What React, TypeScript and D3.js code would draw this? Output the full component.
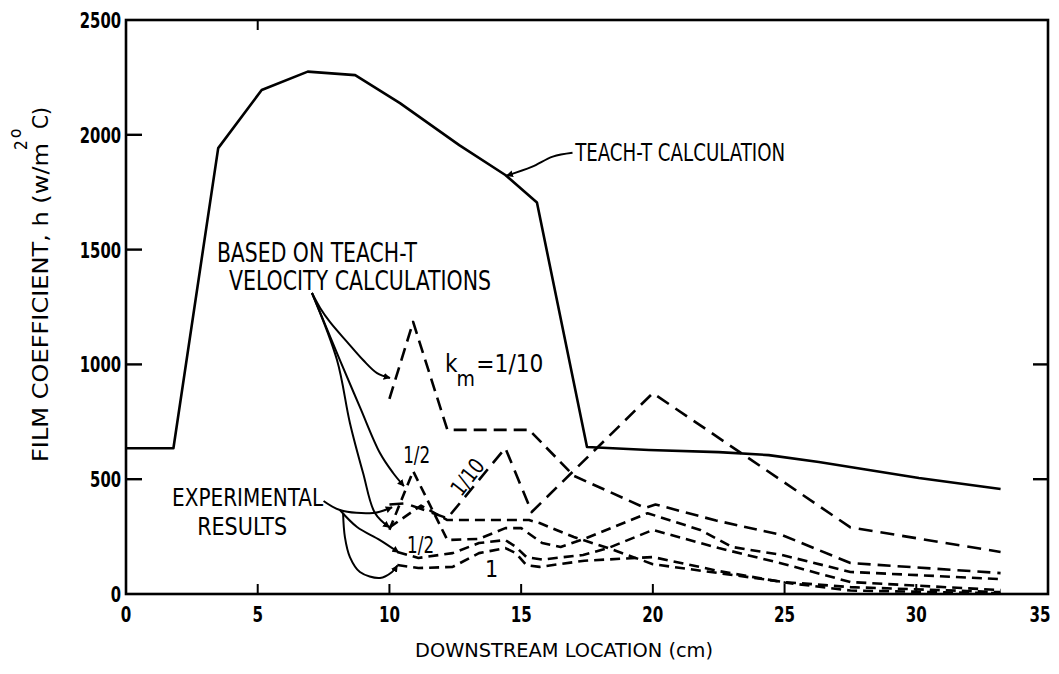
import React from 'react';
import * as d3 from 'd3';

// TEACH-T calculation (solid)
const teachX = [0, 1.8, 3.5, 5.15, 6.9, 8.7, 10.4, 12.65, 14.4, 15.6, 17.5, 19.85, 22.5, 24.4, 26.3, 28.2, 30.1, 33.2];
const teachY = [635, 635, 1942, 2195, 2275, 2260, 2138, 1955, 1825, 1705, 640, 627, 618, 605, 575, 540, 505, 457];

// dashed predictions based on TEACH-T velocity calculations
const vel10X = [10, 10.9, 12.2, 15.3, 17.0, 19.7, 20.1, 22.4, 24.9, 27.5, 33.2];
const vel10Y = [850, 1185, 715, 715, 515, 375, 390, 320, 257, 135, 91];
const vel2X = [10, 10.9, 12.2, 13.4, 14.4, 15.0, 15.8, 16.5, 17.4, 19.8, 21.8, 23.0, 24.9, 27.5, 33.2];
const vel2Y = [280, 535, 235, 240, 287, 287, 222, 205, 240, 352, 279, 205, 170, 96, 65];
const vel1X = [10, 11.2, 12.2, 15.3, 15.7, 17.0, 18.3, 20, 22.5, 25, 27.5, 33.2];
const vel1Y = [290, 385, 322, 322, 309, 248, 200, 130, 91, 52, 30, 8];

// dashed predictions based on experimental results
const exp10X = [10, 10.6, 12.2, 14.4, 15.4, 20, 27.5, 33.2];
const exp10Y = [390, 395, 330, 636, 357, 875, 290, 183];
const exp2X = [10.3, 11.1, 12.4, 13.4, 14.4, 14.8, 15.2, 15.8, 17.35, 18.3, 20, 22.5, 25, 27.5, 33.2];
const exp2Y = [183, 157, 178, 222, 235, 205, 161, 150, 170, 200, 279, 200, 130, 52, 17];
const exp1X = [10.3, 11.1, 12.4, 13.4, 14.4, 14.8, 15.2, 15.7, 17.4, 20, 22.5, 25, 27.5, 33.2];
const exp1Y = [126, 113, 118, 178, 200, 178, 126, 118, 145, 161, 100, 50, 15, 3];

const xTicks = [0, 5, 10, 15, 20, 25, 30, 35];
const yTicks = [0, 500, 1000, 1500, 2000, 2500];

// leader lines (data units)
const leadTeach: [number, number][] = [[16.95, 1922], [16.2, 1905], [15.4, 1860], [14.45, 1822]];
const leadVel10: [number, number][] = [[7.06, 1311], [7.37, 1246], [7.74, 1185], [8.39, 1098], [9.0, 1019], [9.53, 962], [10.02, 941]];
const leadVel2: [number, number][] = [[7.06, 1311], [8.12, 1019], [8.88, 814], [9.64, 614], [10.14, 527], [10.55, 470]];
const leadVel1: [number, number][] = [[7.06, 1311], [8.01, 1019], [8.5, 745], [9.0, 527], [9.45, 353], [10.0, 290]];
const leadExp10: [number, number][] = [[7.5, 405], [8.12, 366], [9.38, 353], [10.1, 378]];
const leadExp2: [number, number][] = [[8.12, 366], [8.77, 292], [9.64, 235], [10.35, 181]];
const leadExp1: [number, number][] = [[8.24, 353], [8.31, 248], [8.5, 161], [8.88, 96], [9.64, 70], [10.1, 96], [10.3, 124]];

const FONT = "'DejaVu Sans Condensed', 'DejaVu Sans', sans-serif";

export default function App() {
  const x = d3.scaleLinear().domain([0, 35]).range([126, 1048]);
  const y = d3.scaleLinear().domain([0, 2500]).range([594, 20]);

  const path = (xs: number[], ys: number[]) =>
    d3.line<number>().x(d => x(xs[d])).y(d => y(ys[d]))(xs.map((_, i) => i)) || '';
  const curve = (pts: [number, number][]) =>
    d3.line<[number, number]>().x(d => x(d[0])).y(d => y(d[1])).curve(d3.curveCatmullRom)(pts) || '';

  const dashed = [
    { xs: vel10X, ys: vel10Y, dash: '13,7' },
    { xs: vel2X, ys: vel2Y, dash: '10,6' },
    { xs: vel1X, ys: vel1Y, dash: '10,6' },
    { xs: exp10X, ys: exp10Y, dash: '14,8' },
    { xs: exp2X, ys: exp2Y, dash: '10,6' },
    { xs: exp1X, ys: exp1Y, dash: '10,6' },
  ];
  const leaders = [leadTeach, leadVel10, leadVel2, leadVel1, leadExp10, leadExp2, leadExp1];

  // squeezed label helper
  const Lbl = (p: { x: number; y: number; w: number; fs: number; t: string; anchor?: string; bold?: boolean }) => (
    <text x={p.x} y={p.y} fontSize={p.fs} textLength={p.w} lengthAdjust="spacingAndGlyphs"
      textAnchor={p.anchor || 'start'} fontWeight={p.bold ? 'bold' : 'normal'}>{p.t}</text>
  );

  return (
    <svg width={1059} height={674} style={{ position: 'absolute', left: 0, top: 0, background: '#fff' }}
      fontFamily={FONT}>
      <defs>
        <marker id="ah" viewBox="0 0 10 10" refX="9" refY="5" markerWidth="7" markerHeight="7"
          markerUnits="userSpaceOnUse" orient="auto">
          <path d="M0,0 L10,5 L0,10 z" fill="#000" />
        </marker>
      </defs>

      {/* frame */}
      <rect x={x(0)} y={y(2500)} width={x(35) - x(0)} height={y(0) - y(2500)} fill="none" stroke="#000" strokeWidth={2.6} />

      {/* ticks */}
      {yTicks.filter(t => t > 0 && t < 2500).map(t => (
        <line key={'yl' + t} x1={x(0)} x2={x(0) + 16} y1={y(t)} y2={y(t)} stroke="#000" strokeWidth={2.4} />
      ))}
      {yTicks.filter(t => t === 500 || t === 1000).map(t => (
        <line key={'yr' + t} x1={x(35)} x2={x(35) - 15} y1={y(t)} y2={y(t)} stroke="#000" strokeWidth={2.4} />
      ))}
      {xTicks.filter(t => t > 0 && t < 35).map(t => (
        <line key={'xb' + t} x1={x(t)} x2={x(t)} y1={y(0)} y2={y(0) - 10} stroke="#000" strokeWidth={2} />
      ))}
      <line x1={x(5)} x2={x(5)} y1={y(2500)} y2={y(2500) + 10} stroke="#000" strokeWidth={2} />

      {/* tick labels */}
      {yTicks.map(t => (
        <Lbl key={'ylab' + t} x={x(0) - 5} y={y(t) + 8} fs={22} w={String(t).length * 10.3} t={String(t)} anchor="end" bold />
      ))}
      {xTicks.map(t => (
        <Lbl key={'xlab' + t} x={t === 35 ? x(t) - 8 : x(t)} y={622} fs={22} w={String(t).length * 10.5} t={String(t)} anchor="middle" bold />
      ))}

      {/* axis titles */}
      <Lbl x={415} y={657} fs={19} w={298} t="DOWNSTREAM LOCATION (cm)" />
      <g transform="translate(48,462) rotate(-90)">
        <text fontSize={21} textLength={319} lengthAdjust="spacingAndGlyphs">FILM COEFFICIENT, h (w/m</text>
      </g>
      <text transform="translate(27,150) rotate(-90)" fontSize={17}>2</text>
      <text transform="translate(21,138) rotate(-90)" fontSize={17}>o</text>
      <g transform="translate(48,129) rotate(-90)">
        <text fontSize={21} textLength={22} lengthAdjust="spacingAndGlyphs">C)</text>
      </g>

      {/* curves */}
      <path d={path(teachX, teachY)} fill="none" stroke="#000" strokeWidth={2.6} strokeLinejoin="round" />
      {dashed.map((s, i) => (
        <path key={'d' + i} d={path(s.xs, s.ys)} fill="none" stroke="#000" strokeWidth={2.6}
          strokeDasharray={s.dash} strokeLinejoin="round" />
      ))}

      {/* leaders */}
      {leaders.map((pts, i) => (
        <path key={'l' + i} d={curve(pts)} fill="none" stroke="#000" strokeWidth={2} markerEnd="url(#ah)" />
      ))}

      {/* annotation texts */}
      <Lbl x={x(17.05)} y={y(1886)} fs={25} w={210} t="TEACH-T CALCULATION" />
      <Lbl x={x(3.45)} y={y(1446)} fs={26} w={200} t="BASED ON TEACH-T" />
      <Lbl x={x(3.91)} y={y(1326)} fs={26} w={262} t="VELOCITY CALCULATIONS" />
      <text x={x(12.11)} y={y(967)} fontSize={24}>k</text>
      <text x={x(12.55)} y={y(905)} fontSize={21}>m</text>
      <Lbl x={x(13.3)} y={y(967)} fs={24} w={67} t="=1/10" />
      <Lbl x={x(10.52)} y={y(571)} fs={23} w={27} t="1/2" />
      <g transform={`translate(${x(12.95)},${y(510)}) rotate(-52)`}>
        <text textAnchor="middle" dy={8} fontSize={22} textLength={40} lengthAdjust="spacingAndGlyphs">1/10</text>
      </g>
      <Lbl x={x(10.67)} y={y(179)} fs={23} w={27} t="1/2" />
      <text x={x(13.63)} y={y(74)} fontSize={23}>1</text>
      <Lbl x={x(1.75)} y={y(383)} fs={25} w={151} t="EXPERIMENTAL" />
      <Lbl x={x(2.7)} y={y(258)} fs={25} w={90} t="RESULTS" />
    </svg>
  );
}
